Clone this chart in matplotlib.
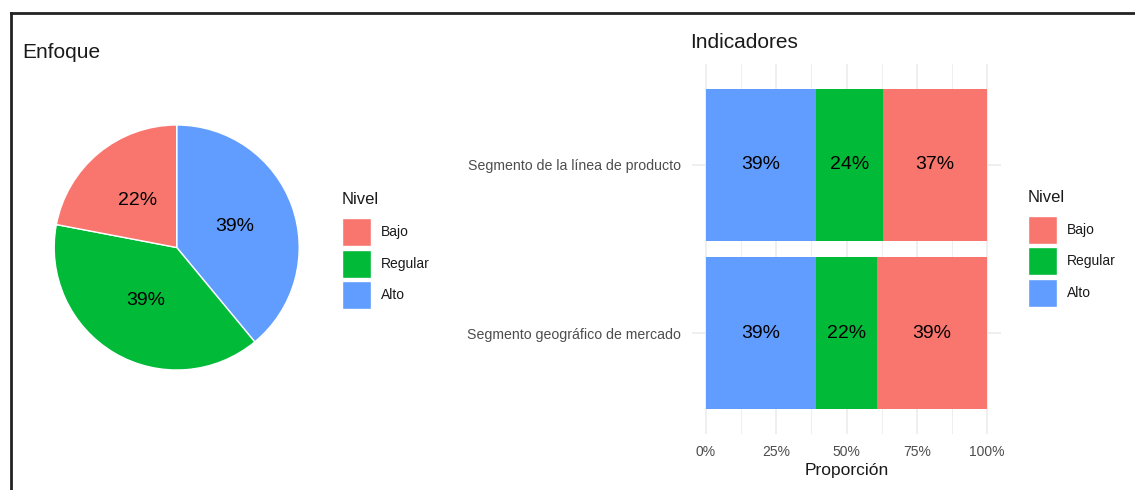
import matplotlib.pyplot as plt
import numpy as np
from matplotlib.lines import Line2D
from matplotlib.patches import Rectangle
from matplotlib.ticker import FuncFormatter, MultipleLocator

plt.rcParams["font.family"] = ["Liberation Sans", "DejaVu Sans"]

W, H = 1135, 490

levels = ["Bajo", "Regular", "Alto"]
level_colors = {"Bajo": "#F8766D", "Regular": "#00BA38", "Alto": "#619CFF"}

# Enfoque (pie), drawn clockwise from 12 o'clock
pie_levels = ["Alto", "Regular", "Bajo"]
pie_pct = [39, 39, 22]

# Indicadores (stacked proportions)
indicators = ["Segmento geográfico de mercado", "Segmento de la línea de producto"]
pct_alto = [39, 39]
pct_regular = [22, 24]
pct_bajo = [39, 37]


def fx(x):
    return x / W


def fy(y):
    return 1 - y / H


def draw_legend(fig, x, y_title, y_keys):
    fig.text(fx(x), fy(y_title), "Nivel", fontsize=12, color="#1a1a1a", va="center", ha="left")
    for lvl, yk in zip(levels, y_keys):
        fig.patches.append(Rectangle((fx(x), fy(yk + 28)), 29 / W, 28 / H,
                                     transform=fig.transFigure, facecolor=level_colors[lvl],
                                     edgecolor="white", linewidth=1))
        fig.text(fx(x + 39), fy(yk + 14), lvl, fontsize=10, color="#1a1a1a", va="center", ha="left")


fig = plt.figure(figsize=(W / 100, H / 100), dpi=100)

# outer frame (top and left edges)
fig.add_artist(Line2D([fx(11), 1], [fy(13), fy(13)], color="#222222", lw=2, transform=fig.transFigure))
fig.add_artist(Line2D([fx(11), fx(11)], [fy(13), 0], color="#222222", lw=2, transform=fig.transFigure))

# ---- pie ----
cx, cy, r = 176.7, 247.5, 122.5
ax1 = fig.add_axes([fx(cx - r), fy(cy + r), 2 * r / W, 2 * r / H])
ax1.pie(pie_pct, colors=[level_colors[l] for l in pie_levels], startangle=90, counterclock=False,
        wedgeprops=dict(edgecolor="white", linewidth=1),
        autopct=lambda p: f"{p:.0f}%", pctdistance=0.5,
        textprops=dict(fontsize=14, color="black"))
ax1.set_xlim(-1, 1)
ax1.set_ylim(-1, 1)
ax1.axis("off")
fig.text(fx(22), fy(52), "Enfoque", fontsize=15, color="#1a1a1a", va="center", ha="left")
draw_legend(fig, 342, 200, [218, 250, 281])

# ---- stacked bars ----
ax2 = fig.add_axes([fx(692), fy(434), (1001 - 692) / W, (434 - 64) / H])
ypos = np.arange(1, len(indicators) + 1)
alto = np.array(pct_alto) / 100
regular = np.array(pct_regular) / 100
bajo = np.array(pct_bajo) / 100
left = np.zeros(len(indicators))
for lvl, vals in [("Alto", alto), ("Regular", regular), ("Bajo", bajo)]:
    ax2.barh(ypos, vals, left=left, height=0.9, color=level_colors[lvl], zorder=2)
    for yi, (l, v) in zip(ypos, zip(left, vals)):
        ax2.text(l + v / 2, yi, f"{v * 100:.0f}%", ha="center", va="center", fontsize=14,
                 color="black", zorder=3)
    left = left + vals

ax2.set_xlim(-0.05, 1.05)
ax2.set_ylim(0.4, 2.6)
ax2.set_yticks(ypos)
ax2.set_yticklabels(indicators)
ax2.xaxis.set_major_locator(MultipleLocator(0.25))
ax2.xaxis.set_minor_locator(MultipleLocator(0.125))
ax2.xaxis.set_major_formatter(FuncFormatter(lambda v, _: f"{v * 100:.0f}%"))
ax2.grid(which="major", color="#EBEBEB", lw=1.1, zorder=0)
ax2.grid(which="minor", axis="x", color="#EBEBEB", lw=0.6, zorder=0)
ax2.tick_params(which="both", length=0, labelsize=10, labelcolor="#4D4D4D", pad=8)
ax2.tick_params(axis="y", labelsize=10.2)
for s in ax2.spines.values():
    s.set_visible(False)
ax2.set_axisbelow(True)
ax2.set_xlabel("Proporción", fontsize=12.5, color="#1a1a1a", labelpad=3)
fig.text(fx(690), fy(43), "Indicadores", fontsize=15, color="#1a1a1a", va="center", ha="left")
draw_legend(fig, 1028, 198, [216, 247, 279])

fig.savefig("out.png", dpi=100, facecolor="white")
